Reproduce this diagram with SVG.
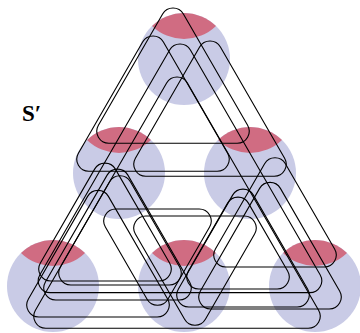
<svg xmlns="http://www.w3.org/2000/svg" xmlns:xlink="http://www.w3.org/1999/xlink" width="360" height="333" viewBox="0 0 360 333">
<style>
.c{fill:#c9cbe6}
.r{fill:#d06c82}
.e{fill:none;stroke:#000;stroke-width:1.1}
.lbl{font-family:"Liberation Serif",serif;font-weight:bold;font-size:23px;fill:#000}
</style>
<defs>
<g id="blob">
<circle class="c" cx="0" cy="0" r="46"/>
<path class="r" d="M-32,-33 A46 46 0 0 1 32,-33 A46 46 0 0 1 -32,-33Z"/>
</g>
</defs>
<rect width="360" height="333" fill="#fff"/>
<g id="v-top"><use xlink:href="#blob" href="#blob" x="184" y="59"/></g>
<g id="v-ml"><use xlink:href="#blob" href="#blob" x="119" y="173"/></g>
<g id="v-mr"><use xlink:href="#blob" href="#blob" x="250" y="173"/></g>
<g id="v-bl"><use xlink:href="#blob" href="#blob" x="53" y="286"/></g>
<g id="v-bm"><use xlink:href="#blob" href="#blob" x="184" y="286"/></g>
<g id="v-br"><use xlink:href="#blob" href="#blob" x="315" y="286"/></g>
<g id="edges" class="e">
<path d="M183.39,14 l64.22,111.22 a12 12 0 0 1 -10.39 18 h-128.43 a12 12 0 0 1 -10.39 -18 l64.22,-111.22 a12 12 0 0 1 20.78 0z"/>
<path d="M163.39,42 l64.22,111.22 a12 12 0 0 1 -10.39 18 h-128.43 a12 12 0 0 1 -10.39 -18 l64.22,-111.22 a12 12 0 0 1 20.78 0z"/>
<path d="M220.39,47 l64.22,111.22 a12 12 0 0 1 -10.39 18 h-128.43 a12 12 0 0 1 -10.39 -18 l64.22,-111.22 a12 12 0 0 1 20.78 0z"/>
<path d="M190.39,50 l129.72,224.67 a12 12 0 0 1 -10.39 18 h-259.43 a12 12 0 0 1 -10.39 -18 l129.72,-224.67 a12 12 0 0 1 20.78 0z"/>
<path d="M187.39,83 l131.22,227.26 a12 12 0 0 1 -10.39 18 h-262.43 a12 12 0 0 1 -10.39 -18 l131.22,-227.26 a12 12 0 0 1 20.78 0z"/>
<path d="M115.39,169.1 l54.22,93.9 a12 12 0 0 1 -10.39 18 h-108.43 a12 12 0 0 1 -10.39 -18 l54.22,-93.9 a12 12 0 0 1 20.78 0z"/>
<path d="M130.39,181.8 l49.22,85.24 a12 12 0 0 1 -10.39 18 h-98.43 a12 12 0 0 1 -10.39 -18 l49.22,-85.24 a12 12 0 0 1 20.78 0z"/>
<path d="M127.89,175.1 l61.72,106.89 a12 12 0 0 1 -10.39 18 h-123.43 a12 12 0 0 1 -10.39 -18 l61.72,-106.89 a12 12 0 0 1 20.78 0z"/>
<path d="M108.39,196.4 l59.22,102.56 a12 12 0 0 1 -10.39 18 h-118.43 a12 12 0 0 1 -10.39 -18 l59.22,-102.56 a12 12 0 0 1 20.78 0z"/>
<path d="M285.39,163.8 l49.22,85.24 a12 12 0 0 1 -10.39 18 h-98.43 a12 12 0 0 1 -10.39 -18 l49.22,-85.24 a12 12 0 0 1 20.78 0z"/>
<path d="M248.39,203.1 l39.22,67.92 a12 12 0 0 1 -10.39 18 h-78.43 a12 12 0 0 1 -10.39 -18 l39.22,-67.92 a12 12 0 0 1 20.78 0z"/>
<path d="M253.39,195.1 l54.22,93.9 a12 12 0 0 1 -10.39 18 h-108.43 a12 12 0 0 1 -10.39 -18 l54.22,-93.9 a12 12 0 0 1 20.78 0z"/>
<path d="M280.39,188.4 l59.22,102.56 a12 12 0 0 1 -10.39 18 h-118.43 a12 12 0 0 1 -10.39 -18 l59.22,-102.56 a12 12 0 0 1 20.78 0z"/>
<path d="M115.78,209 h83.43 a12 12 0 0 1 10.39 18 l-41.72,72.25 a12 12 0 0 1 -20.78 0 l-41.72,-72.25 a12 12 0 0 1 10.39 -18z"/>
<path d="M145.78,216 h98.43 a12 12 0 0 1 10.39 18 l-49.22,85.24 a12 12 0 0 1 -20.78 0 l-49.22,-85.24 a12 12 0 0 1 10.39 -18z"/>
</g>
<text class="lbl" x="22" y="121">S′</text>
</svg>
